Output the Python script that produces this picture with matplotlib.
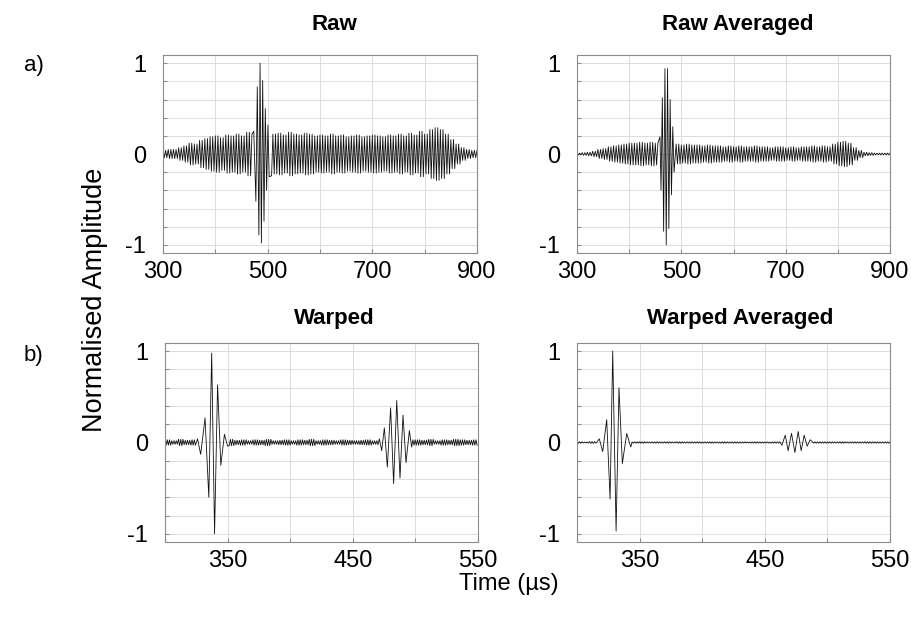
import numpy as np
import matplotlib
matplotlib.use('Agg')
import matplotlib.pyplot as plt

plt.rcParams['font.family'] = ['Liberation Sans', 'DejaVu Sans']

# background oscillation envelopes, one amplitude per time window
raw_t0, raw_dt = 300, 10
raw_env = [0.04, 0.05, 0.05, 0.07, 0.09, 0.12, 0.11, 0.15, 0.17, 0.19,
           0.20, 0.18, 0.21, 0.20, 0.22, 0.20, 0.24, 0.22, 0.22, 0.22,
           0.24, 0.22, 0.23, 0.21, 0.24, 0.22, 0.21, 0.23, 0.22, 0.20,
           0.21, 0.20, 0.22, 0.20, 0.21, 0.19, 0.20, 0.21, 0.19, 0.20,
           0.21, 0.20, 0.19, 0.21, 0.20, 0.22, 0.20, 0.23, 0.21, 0.25,
           0.22, 0.27, 0.29, 0.27, 0.22, 0.16, 0.11, 0.07, 0.05, 0.04]

rawavg_t0, rawavg_dt = 300, 10
rawavg_env = [0.01, 0.015, 0.02, 0.03, 0.05, 0.06, 0.08, 0.09, 0.10, 0.11,
              0.12, 0.12, 0.13, 0.12, 0.13, 0.12, 0.12, 0.12, 0.12, 0.11,
              0.10, 0.11, 0.10, 0.10, 0.09, 0.10, 0.09, 0.09, 0.08, 0.09,
              0.08, 0.09, 0.08, 0.08, 0.09, 0.08, 0.08, 0.07, 0.08, 0.08,
              0.07, 0.08, 0.07, 0.08, 0.08, 0.09, 0.08, 0.09, 0.08, 0.11,
              0.13, 0.14, 0.12, 0.07, 0.04, 0.02, 0.015, 0.01, 0.01, 0.01]

warp_t0, warp_dt = 300, 5
warp_env = [0.03, 0.02, 0.035, 0.025, 0.03, 0.04, 0.03, 0.03, 0.03, 0.03,
            0.035, 0.025, 0.03, 0.02, 0.03, 0.025, 0.035, 0.02, 0.025, 0.03,
            0.02, 0.03, 0.025, 0.035, 0.02, 0.03, 0.025, 0.02, 0.03, 0.025,
            0.02, 0.025, 0.03, 0.02, 0.025, 0.03, 0.03, 0.03, 0.03, 0.03,
            0.03, 0.025, 0.035, 0.02, 0.03, 0.025, 0.035, 0.03, 0.025, 0.03]

warpavg_t0, warpavg_dt = 300, 5
warpavg_env = [0.008, 0.006, 0.01, 0.007, 0.008, 0.009, 0.008, 0.008, 0.007, 0.008,
               0.009, 0.006, 0.008, 0.007, 0.008, 0.006, 0.009, 0.007, 0.008, 0.008,
               0.007, 0.008, 0.006, 0.009, 0.007, 0.008, 0.007, 0.006, 0.008, 0.007,
               0.006, 0.007, 0.008, 0.006, 0.007, 0.008, 0.008, 0.008, 0.008, 0.008,
               0.008, 0.007, 0.009, 0.006, 0.008, 0.007, 0.009, 0.008, 0.007, 0.008]

# wave packets: time (us) and amplitude of successive extrema
raw_pulse_t = [473.5, 477.5, 480.2, 483.2, 485.5, 488.0, 490.5, 493.0, 495.5, 498.0, 500.5, 503.0]
raw_pulse_a = [0.25, -0.52, 0.74, -0.89, 1.0, -0.98, 0.81, -0.74, 0.50, -0.40, 0.32, -0.25]

rawavg_pulse_t = [459.0, 461.0, 463.5, 466.0, 468.5, 471.0, 473.5, 476.0, 478.5, 481.0, 483.5, 486.0]
rawavg_pulse_a = [0.19, -0.40, 0.62, -0.85, 0.94, -1.0, 0.94, -0.82, 0.60, -0.45, 0.30, -0.20]

warp_pulse1_t = [326.0, 328.5, 332.0, 335.0, 337.3, 339.6, 342.0, 344.6, 347.5, 350.0]
warp_pulse1_a = [0.04, -0.13, 0.27, -0.60, 0.98, -1.0, 0.63, -0.25, 0.09, -0.04]
warp_pulse2_t = [471.2, 473.1, 475.2, 477.6, 480.2, 482.6, 485.1, 487.7, 490.1, 492.5, 495.2, 497.0]
warp_pulse2_a = [0.04, -0.09, 0.16, -0.27, 0.38, -0.45, 0.46, -0.39, 0.30, -0.22, 0.13, -0.05]

warpavg_pulse1_t = [317.8, 320.5, 323.7, 326.4, 328.5, 331.2, 333.5, 336.2, 339.7, 342.9]
warpavg_pulse1_a = [0.04, -0.10, 0.25, -0.62, 1.0, -0.97, 0.60, -0.23, 0.10, -0.05]
warpavg_pulse2_t = [463.6, 466.3, 468.6, 471.3, 474.0, 476.6, 479.0, 481.4, 483.8, 486.2]
warpavg_pulse2_a = [-0.03, 0.08, -0.09, 0.10, -0.11, 0.12, -0.09, 0.08, -0.04, 0.03]


def build_trace(t0, dt, env, half_period, packets):
    # alternating extrema scaled by the window envelope
    t = np.arange(t0, t0 + dt * len(env) + 1e-9, half_period)
    idx = np.minimum(((t - t0) // dt).astype(int), len(env) - 1)
    sign = np.where(np.arange(len(t)) % 2 == 0, 1.0, -1.0)
    a = np.array(env)[idx] * sign
    keep = np.ones(len(t), bool)
    for pt, pa in packets:
        keep &= (t < pt[0] - half_period) | (t > pt[-1] + half_period)
    t_all = np.concatenate([t[keep]] + [np.array(pt) for pt, pa in packets])
    a_all = np.concatenate([a[keep]] + [np.array(pa) for pt, pa in packets])
    order = np.argsort(t_all)
    return t_all[order], a_all[order]


traces = [
    build_trace(raw_t0, raw_dt, raw_env, 2.5, [(raw_pulse_t, raw_pulse_a)]),
    build_trace(rawavg_t0, rawavg_dt, rawavg_env, 2.5, [(rawavg_pulse_t, rawavg_pulse_a)]),
    build_trace(warp_t0, warp_dt, warp_env, 0.9,
                [(warp_pulse1_t, warp_pulse1_a), (warp_pulse2_t, warp_pulse2_a)]),
    build_trace(warpavg_t0, warpavg_dt, warpavg_env, 1.0,
                [(warpavg_pulse1_t, warpavg_pulse1_a), (warpavg_pulse2_t, warpavg_pulse2_a)]),
]

fig = plt.figure(figsize=(9.11, 6.2), dpi=100)
boxes = [[0.1789, 0.5919, 0.3447, 0.3194],
         [0.6334, 0.5919, 0.3436, 0.3194],
         [0.1811, 0.1258, 0.3436, 0.3210],
         [0.6334, 0.1258, 0.3436, 0.3210]]
xlims = [(300, 900), (300, 900), (300, 550), (300, 550)]
xtick_steps = [100, 100, 50, 50]
xlabel_sets = [{300, 500, 700, 900}, {300, 500, 700, 900}, {350, 450, 550}, {350, 450, 550}]

yticks = np.round(np.arange(-1, 1.01, 0.2), 1)
ylabels = ['-1' if v == -1 else '0' if v == 0 else '1' if v == 1 else '' for v in yticks]

for box, (t, a), xl, step, shown in zip(boxes, traces, xlims, xtick_steps, xlabel_sets):
    ax = fig.add_axes(box)
    ax.plot(t, a, color='#111111', lw=0.6)
    ax.set_xlim(xl)
    ax.set_ylim(-1.09, 1.09)
    xt = np.arange(xl[0], xl[1] + 1, step)
    ax.set_xticks(xt)
    ax.set_xticklabels([str(v) if v in shown else '' for v in xt])
    ax.set_yticks(yticks)
    ax.set_yticklabels(ylabels)
    ax.grid(True, color='#dcdcdc', lw=0.7)
    ax.set_axisbelow(True)
    for s in ax.spines.values():
        s.set_color('#8c8c8c')
        s.set_linewidth(0.8)
    ax.tick_params(direction='in', length=3, color='#8c8c8c', labelsize=17)
    ax.tick_params(axis='y', pad=12)
    ax.tick_params(axis='x', pad=6)

fig.text(0.367, 0.96, 'Raw', fontsize=16, fontweight='bold', ha='center', va='center')
fig.text(0.810, 0.96, 'Raw Averaged', fontsize=16, fontweight='bold', ha='center', va='center')
fig.text(0.367, 0.487, 'Warped', fontsize=16, fontweight='bold', ha='center', va='center')
fig.text(0.812, 0.487, 'Warped Averaged', fontsize=16, fontweight='bold', ha='center', va='center')
fig.text(0.037, 0.895, 'a)', fontsize=16, ha='center', va='center')
fig.text(0.037, 0.427, 'b)', fontsize=16, ha='center', va='center')
fig.text(0.104, 0.516, 'Normalised Amplitude', fontsize=19.5, rotation=90, ha='center', va='center')
fig.text(0.559, 0.058, 'Time (µs)', fontsize=17, ha='center', va='center')

fig.savefig('out.png', dpi=100)
